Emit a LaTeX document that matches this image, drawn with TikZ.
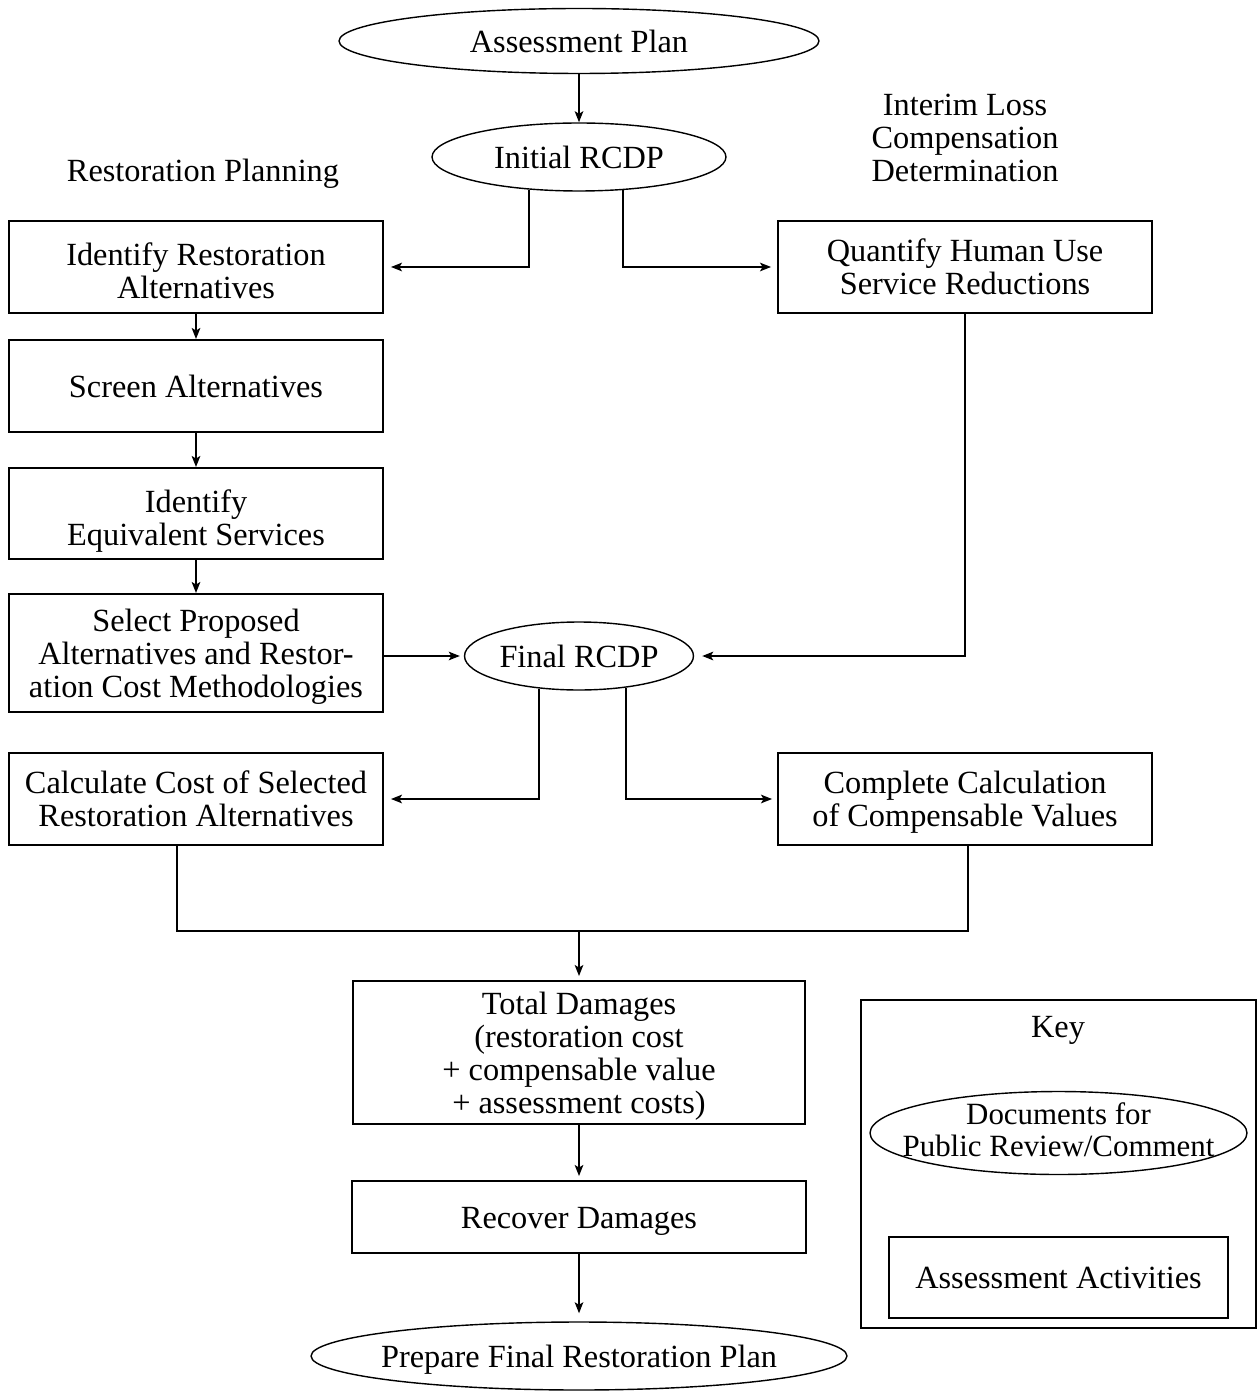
\documentclass[tikz,border=0pt]{standalone}
\usepackage{fontspec}
\setmainfont{Liberation Serif}
\usetikzlibrary{shapes.geometric,arrows.meta,calc}
\begin{document}
\begin{tikzpicture}[x=0.02cm,y=-0.02cm,
  every node/.style={font=\fontsize{18.4}{18.7}\selectfont, align=center, inner sep=0pt,
    text height=13pt, text depth=0pt},
  twol/.style={text height=31.7pt},
  twolow/.style={text height=36.2pt},
  threel/.style={text height=50.4pt},
  fourl/.style={text height=69.1pt},
  line/.style={line width=1.1pt},
  arr/.style={line, -{Stealth[length=0.22cm,width=0.17cm,inset=0.05cm]}},
  boxnode/.style={draw, line width=1.1pt, rectangle},
  ovalnode/.style={draw, line width=0.8pt, ellipse, inner xsep=-1.2cm, inner ysep=-0.3cm}]
\useasboundingbox (0,0) rectangle (1257,1391);
% ellipses
\node[ovalnode, minimum width=9.6cm, minimum height=1.3cm] (ap) at (579,41) {Assessment Plan};
\node[ovalnode, minimum width=5.88cm, minimum height=1.36cm] (init) at (579,157) {Initial RCDP};
\node[ovalnode, minimum width=4.58cm, minimum height=1.36cm] (final) at (579,656) {Final RCDP};
\node[ovalnode, minimum width=10.72cm, minimum height=1.36cm] (prep) at (579,1356) {Prepare Final Restoration Plan};
% headings
\node (hrp) at (203,170) {Restoration Planning};
\node[threel] (hil) at (965,137) {Interim Loss\\Compensation\\Determination};
% boxes
\node[boxnode, twolow, minimum width=7.48cm, minimum height=1.84cm] (ida) at (196,267) {Identify Restoration\\Alternatives};
\node[boxnode, twol, minimum width=7.48cm, minimum height=1.84cm] (qhu) at (965,267) {Quantify Human Use\\Service Reductions};
\node[boxnode, minimum width=7.48cm, minimum height=1.84cm] (scr) at (196,386) {Screen Alternatives};
\node[boxnode, twolow, minimum width=7.48cm, minimum height=1.82cm] (ies) at (196,513.5) {Identify\\Equivalent Services};
\node[boxnode, threel, minimum width=7.48cm, minimum height=2.36cm] (spa) at (196,653) {Select Proposed\\Alternatives and Restor-\\ation Cost Methodologies};
\node[boxnode, twol, minimum width=7.48cm, minimum height=1.84cm] (calc) at (196,799) {Calculate Cost of Selected\\Restoration Alternatives};
\node[boxnode, twol, minimum width=7.48cm, minimum height=1.84cm] (comp) at (965,799) {Complete Calculation\\of Compensable Values};
\node[boxnode, fourl, minimum width=9.04cm, minimum height=2.86cm] (tot) at (579,1052.5) {Total Damages\\(restoration cost\\+ compensable value\\+ assessment costs)};
\node[boxnode, minimum width=9.08cm, minimum height=1.44cm] (rec) at (579,1217) {Recover Damages};
% key
\node[boxnode, minimum width=7.9cm, minimum height=6.56cm] (key) at (1058.5,1164) {};
\node (keyt) at (1058,1026) {Key};
\node[ovalnode, font=\fontsize{17.6}{18.2}\selectfont, text height=31pt, text depth=4pt, minimum width=7.54cm, minimum height=1.66cm] (kdoc) at (1058.5,1133) {Documents for\\Public Review/Comment};
\node[boxnode, minimum width=6.78cm, minimum height=1.62cm] (kact) at (1058.5,1277.5) {Assessment Activities};
% connectors
\draw[arr] (ap) -- (init);
\draw[arr, shorten >=0.14cm] (init.-147) |- (ida.east);
\draw[arr, shorten >=0.12cm] (init.-37) |- (qhu.west);
\draw[arr] (ida) -- (scr);
\draw[arr] (scr) -- (ies);
\draw[arr] (ies) -- (spa);
\draw[arr, shorten >=0.08cm] (spa.east |- final.west) -- (final.west);
\draw[arr, shorten >=0.16cm] (qhu.south) |- (final.east);
\draw[arr, shorten >=0.14cm] (final.-141) |- (calc.east);
\draw[arr, shorten >=0.1cm] (final.-34) |- (comp.west);
\coordinate (m) at (579,931);
\draw[line] ([xshift=-0.38cm]calc.south) |- (m) -| ([xshift=0.06cm]comp.south);
\draw[arr, shorten >=0.08cm] (m) -- (tot.north);
\draw[arr, shorten >=0.08cm] (tot.south) -- (rec.north);
\draw[arr, shorten >=0.16cm] (rec.south) -- (prep.north);
\end{tikzpicture}
\end{document}
